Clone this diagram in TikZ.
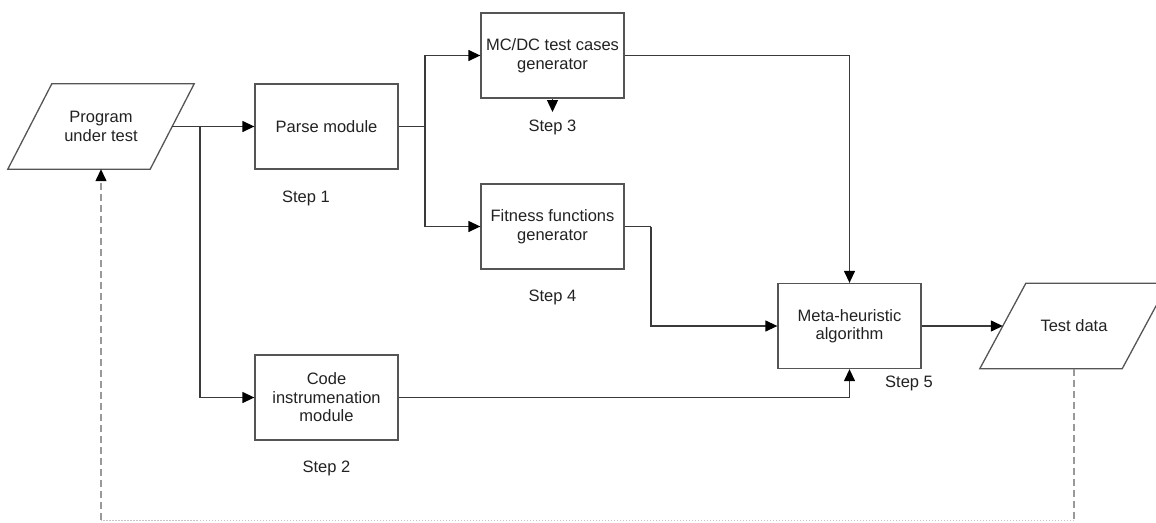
\documentclass[tikz,border=0pt]{standalone}
\usepackage{fontspec}
\setmainfont{Liberation Sans}
\usetikzlibrary{arrows.meta}
\definecolor{boxline}{HTML}{555555}
\definecolor{conn}{HTML}{3A3A3A}
\definecolor{txt}{HTML}{222222}
\tikzset{
  px/.style={x=1pt,y=-1pt},
  tip/.tip={Triangle[length=12pt,width=11pt,fill=black,color=black]},
  module/.style={draw=boxline,line width=1.3pt,rectangle,minimum width=143pt,minimum height=85pt,
    align=center,text=txt,font=\fontsize{16.5}{18.5}\selectfont,inner sep=2pt},
  % data nodes: the rectangle is the mid-height span of a slanted parallelogram
  iodata/.style={rectangle,minimum width=142pt,minimum height=85pt,inner sep=0pt,
    align=center,text=txt,font=\fontsize{16.5}{18.5}\selectfont},
  slantedge/.style={draw=boxline,line width=1.3pt},
  steplabel/.style={text=txt,font=\fontsize{16.5}{18.5}\selectfont,inner sep=0pt},
  link/.style={draw=conn,line width=1.3pt,-tip},
  plainlink/.style={draw=conn,line width=1.3pt},
  feedback/.style={draw=gray!80,line width=1.3pt,dash pattern=on 7pt off 4pt},
  feedbackdot/.style={draw=gray!45,line width=1pt,dash pattern=on 1.5pt off 1.5pt}
}
\begin{document}
\begin{tikzpicture}[px]
\useasboundingbox (0,0) rectangle (1156,522);
% input / output data
\node[iodata] (prog) at (101,126.5) {Program\\under test};
\node[iodata] (td) at (1074,326) {Test data};
\draw[slantedge] ([xshift=22pt]prog.north west) -- ([xshift=22pt]prog.north east)
  -- ([xshift=-22pt]prog.south east) -- ([xshift=-22pt]prog.south west) -- cycle;
\draw[slantedge] ([xshift=23pt]td.north west) -- ([xshift=23pt]td.north east)
  -- ([xshift=-23pt]td.south east) -- ([xshift=-23pt]td.south west) -- cycle;
% processing modules
\node[module] (parse) at (326.5,126.5) {Parse module};
\node[module] (code) at (326.5,397.5) {Code\\instrumenation\\module};
\node[module] (mcdc) at (552.5,55.5) {MC/DC test cases\\generator};
\node[module] (fit) at (552.5,226.5) {Fitness functions\\generator};
\node[module] (meta) at (849.5,326) {Meta-heuristic\\algorithm};
% step labels
\node[steplabel] (s1) at (306,198) {Step 1};
\node[steplabel] (s2) at (326.5,468) {Step 2};
\node[steplabel] (s3) at (552.5,127) {Step 3};
\node[steplabel] (s4) at (552.5,297) {Step 4};
\node[steplabel] (s5) at (909,383) {Step 5};
% branch points and feedback corners
\coordinate (j1) at (200,126.5);
\coordinate (j2) at (425,126.5);
\coordinate (f1) at (651,226.5);
\coordinate (m3) at (552.5,112);
\coordinate (b1) at (1074,520);
\coordinate (b2) at (101,520);
% connectors
\draw[link] (prog.east) -- (parse.west);
\draw[link] (j1) |- (code.west);
\draw[plainlink] (parse.east) -- (j2);
\draw[link] (j2) |- (mcdc.west);
\draw[link] (j2) |- (fit.west);
\draw[link] (mcdc.south) -- (m3);
\draw[link] (mcdc.east) -| (meta.north);
\draw[plainlink] (fit.east) -- (f1);
\draw[link] (f1) |- (meta.west);
\draw[link] (code.east) -| (meta.south);
\draw[link] (meta.east) -- (td.west);
% feedback loop
\draw[feedback] (td.south) -- (b1);
\draw[feedbackdot] (b1) -- (b2);
\draw[feedback,-tip] (b2) -- (prog.south);
\end{tikzpicture}
\end{document}
